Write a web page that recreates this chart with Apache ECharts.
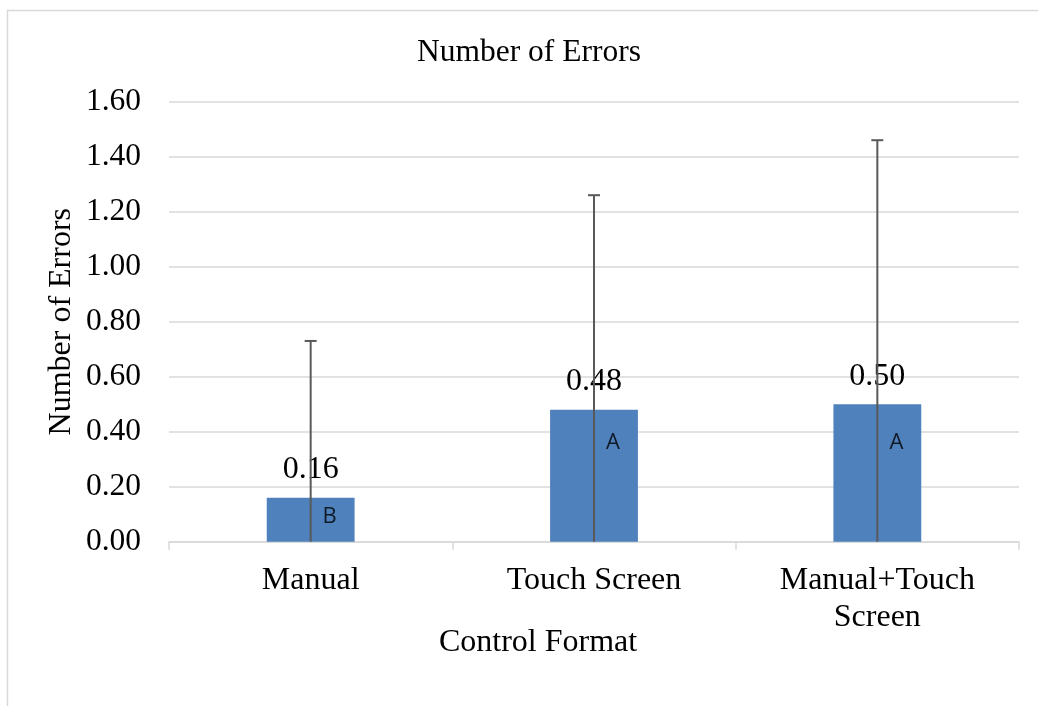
<!DOCTYPE html>
<html>
<head>
<meta charset="utf-8">
<script src="https://cdn.jsdelivr.net/npm/echarts@6/dist/echarts.min.js"></script>
<style>
html,body{margin:0;padding:0;background:#fff;}
#chart{width:1038px;height:706px;}
</style>
</head>
<body>
<div id="chart"></div>
<script>
var categories = ['Manual', 'Touch Screen', 'Manual+Touch\nScreen'];
var meanErrors = [0.16, 0.48, 0.50];
var errorPlus = [0.57, 0.78, 0.96];
var groupLetters = ['B', 'A', 'A'];
var letterValues = [0.09, 0.36, 0.36];
var yTicks = { min: 0, max: 1.6, interval: 0.2 };

var serif = 'Liberation Serif, Times New Roman, serif';
var errData = meanErrors.map(function (v, i) {
  return [i, Math.max(0, v - errorPlus[i]), v + errorPlus[i]];
});
var letterData = groupLetters.map(function (l, i) {
  return { value: [i, letterValues[i]], letter: l };
});

var chart = echarts.init(document.getElementById('chart'));
chart.setOption({
  animation: false,
  backgroundColor: '#fff',
  graphic: [{
    type: 'rect',
    shape: { x: 7.5, y: 10.5, width: 1200, height: 900 },
    style: { fill: 'none', stroke: '#d9d9d9', lineWidth: 1.5 },
    silent: true
  }],
  title: {
    text: 'Number of Errors',
    left: 412,
    top: 32,
    textStyle: { fontFamily: serif, fontSize: 31.5, fontWeight: 'normal', color: '#000' }
  },
  grid: { left: 169, right: 19, top: 101.7, bottom: 164.3, containLabel: false },
  xAxis: {
    type: 'category',
    data: categories,
    name: 'Control Format',
    nameLocation: 'middle',
    nameGap: 85,
    nameMoveOverlap: false,
    nameTextStyle: { fontFamily: serif, fontSize: 32, color: '#000', padding: [0, 112, 0, 0] },
    axisLine: { lineStyle: { color: '#d9d9d9', width: 1.5 } },
    axisTick: { show: true, length: 8, lineStyle: { color: '#d9d9d9', width: 1.5 } },
    axisLabel: { fontFamily: serif, fontSize: 32, color: '#000', margin: 20, lineHeight: 37, interval: 0 }
  },
  yAxis: {
    type: 'value',
    min: yTicks.min,
    max: yTicks.max,
    interval: yTicks.interval,
    name: 'Number of Errors',
    nameLocation: 'middle',
    nameRotate: 90,
    nameGap: 91,
    nameMoveOverlap: false,
    nameTextStyle: { fontFamily: serif, fontSize: 32, color: '#000' },
    axisLine: { show: false },
    axisTick: { show: false },
    splitLine: { lineStyle: { color: '#d9d9d9', width: 1.5 } },
    axisLabel: {
      fontFamily: serif, fontSize: 31.5, color: '#000', margin: 28,
      formatter: function (v) { return v.toFixed(2); }
    }
  },
  series: [
    {
      type: 'bar',
      data: meanErrors,
      barWidth: '31%',
      itemStyle: { color: '#4f81bd' },
      label: {
        show: true, position: 'top', distance: 12,
        fontFamily: serif, fontSize: 32, color: '#000',
        formatter: function (p) { return p.value.toFixed(2); }
      },
      z: 2
    },
    {
      type: 'scatter',
      data: letterData,
      symbolSize: 0,
      label: {
        show: true, position: 'inside', offset: [19, 0],
        fontFamily: 'Open Sans, Liberation Sans, Arial, sans-serif', fontSize: 22, color: '#000',
        formatter: function (p) { return p.data.letter; }
      },
      z: 3
    },
    {
      type: 'custom',
      data: errData,
      renderItem: function (params, api) {
        var x = api.value(0);
        var lo = api.coord([x, api.value(1)]);
        var hi = api.coord([x, api.value(2)]);
        var cap = 6;
        var st = { stroke: '#595959', lineWidth: 2 };
        return {
          type: 'group',
          children: [
            { type: 'line', shape: { x1: lo[0], y1: lo[1], x2: hi[0], y2: hi[1] }, style: st },
            { type: 'line', shape: { x1: hi[0] - cap, y1: hi[1], x2: hi[0] + cap, y2: hi[1] }, style: st }
          ]
        };
      },
      z: 4
    }
  ]
});
</script>
</body>
</html>
